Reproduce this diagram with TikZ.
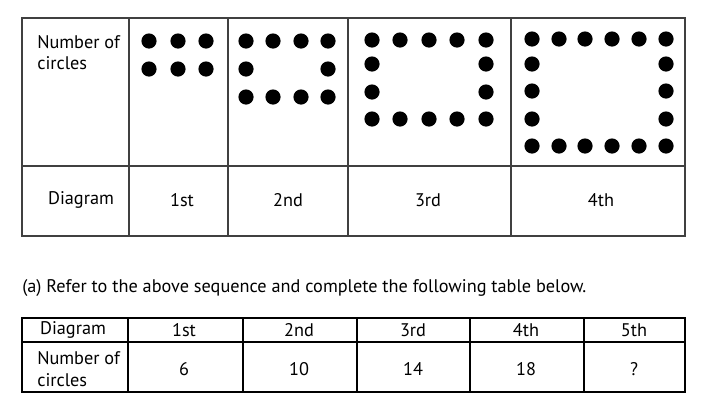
\documentclass[tikz,border=0pt]{standalone}
\usepackage{fontspec}
\setmainfont{PT Sans}
\usepackage{tikz}
\usetikzlibrary{positioning}

\begin{document}
\begin{tikzpicture}[x=0.75pt, y=-0.75pt,
    grid/.style={draw=black!75, line width=0.9pt},
    tablegrid/.style={draw=black, line width=1.1pt},
    dot/.style={fill=black},
    celltext/.style={font=\fontsize{13.7}{16.5}\selectfont, inner sep=0pt},
    lefttext/.style={celltext, align=left, anchor=west}
]
    \useasboundingbox (0,0) rectangle (704,411);

    % Top table
    \draw[grid] (22,18) rectangle (685,236);
    \draw[grid] (22,166) -- (685,166);
    \draw[grid] (129,18) -- (129,236);
    \draw[grid] (228,18) -- (228,236);
    \draw[grid] (348,18) -- (348,236);
    \draw[grid] (511,18) -- (511,236);

    \node[lefttext, font=\fontsize{13.7}{15.75}\selectfont] (numtop) at (37,52.5) {Number of\\circles};
    \node[celltext] (diagtop) at (81,200) {Diagram};
    \node[celltext] (first) at (182,200) {1st};
    \node[celltext] (second) at (288,200) {2nd};
    \node[celltext] (third) at (428,200) {3rd};
    \node[celltext] (fourth) at (601,200) {4th};

    % Dots: 1st
    \foreach \x in {149,178,206}
        \foreach \y in {41,69}
            \fill[dot] (\x,\y) circle[radius=5.7pt];

    % Dots: 2nd
    \foreach \x in {246,273,301,328}
        \foreach \y in {41,97}
            \fill[dot] (\x,\y) circle[radius=5.7pt];
    \foreach \x in {246,328}
        \fill[dot] (\x,69) circle[radius=5.7pt];

    % Dots: 3rd
    \foreach \x in {372,400,429,457,486}
        \foreach \y in {40,119}
            \fill[dot] (\x,\y) circle[radius=5.7pt];
    \foreach \x in {372,486}
        \foreach \y in {64,92}
            \fill[dot] (\x,\y) circle[radius=5.7pt];

    % Dots: 4th
    \foreach \x in {532,559,585,612,639,666}
        \foreach \y in {39,146}
            \fill[dot] (\x,\y) circle[radius=5.7pt];
    \foreach \x in {532,666}
        \foreach \y in {64,91,119}
            \fill[dot] (\x,\y) circle[radius=5.7pt];

    % Question
    \node[celltext, anchor=west] (question) at (22,288) {(a) Refer to the above sequence and complete the following table below.};

    % Bottom table
    \draw[tablegrid] (22,318) rectangle (685,392);
    \draw[tablegrid] (22,342) -- (685,342);
    \foreach \x in {128,243,357,470,584}
        \draw[tablegrid] (\x,318) -- (\x,392);

    \node[celltext] (diagbot) at (73,330) {Diagram};
    \node[celltext] (d1) at (184,330) {1st};
    \node[celltext] (d2) at (299,330) {2nd};
    \node[celltext] (d3) at (413,330) {3rd};
    \node[celltext] (d4) at (526,330) {4th};
    \node[celltext] (d5) at (634,330) {5th};

    \node[lefttext] (numbot) at (37,369) {Number of\\circles};
    \node[celltext] (n1) at (184,369) {6};
    \node[celltext] (n2) at (299,369) {10};
    \node[celltext] (n3) at (413,369) {14};
    \node[celltext] (n4) at (526,369) {18};
    \node[celltext] (n5) at (634,369) {?};
\end{tikzpicture}
\end{document}
